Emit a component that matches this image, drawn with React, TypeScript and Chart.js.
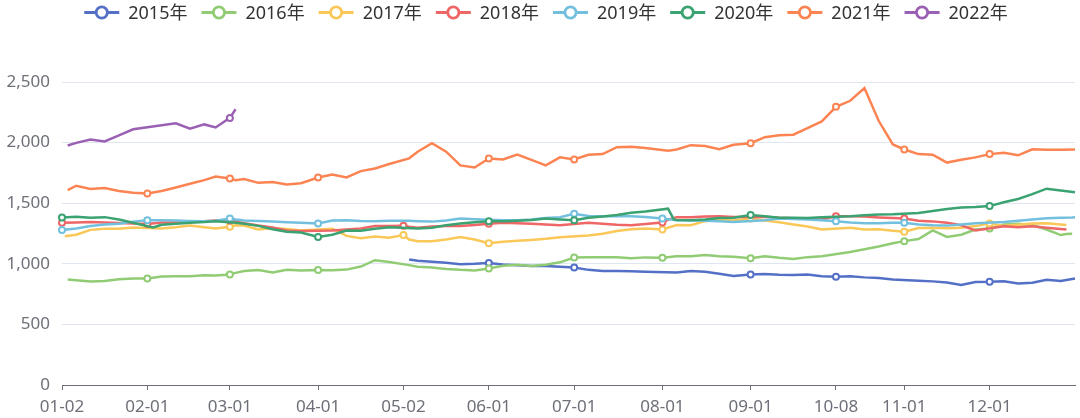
import React, { useEffect, useRef } from "react";
import { Chart, registerables } from "chart.js";

Chart.register(...registerables);

const FONT = "'Noto Sans', 'Noto Sans CJK SC', 'DejaVu Sans', sans-serif";
const N = null;

// calendar of the category axis (union of trading dates across years)
const MONTH_DAYS = [31, 29, 31, 30, 31, 30, 31, 31, 30, 31, 30, 31];
const CLOSED_DATES = ["01-01", "05-01", "10-01", "10-02", "10-03", "10-04", "10-05", "10-06", "10-07"];
const TICK_LABELS = ["01-02", "02-01", "03-01", "04-01", "05-02", "06-01", "07-01", "08-01", "09-01", "10-08", "11-01", "12-01"];

const SERIES_NAMES = ["2015年", "2016年", "2017年", "2018年", "2019年", "2020年", "2021年", "2022年"];
const COLORS = ["#5470c6", "#91cc75", "#fac858", "#ee6666", "#73c0de", "#3ba272", "#fc8452", "#9a60b4"];

const SAMPLE_DATES = [
  "01-02", "01-03", "01-04", "01-07", "01-12", "01-17", "01-22", "01-27",
  "02-01", "02-03", "02-06", "02-11", "02-16", "02-21", "02-25",
  "03-01", "03-03", "03-06", "03-11", "03-16", "03-21", "03-26",
  "04-01", "04-06", "04-11", "04-16", "04-21", "04-26",
  "05-02", "05-04", "05-07", "05-12", "05-17", "05-22", "05-27",
  "06-01", "06-06", "06-11", "06-16", "06-21", "06-26",
  "07-01", "07-06", "07-11", "07-16", "07-21", "07-26",
  "08-01", "08-03", "08-05", "08-06", "08-11", "08-16", "08-21", "08-26",
  "09-01", "09-06", "09-11", "09-16", "09-21", "09-26",
  "10-08", "10-13", "10-18", "10-23", "10-28",
  "11-01", "11-06", "11-11", "11-16", "11-21", "11-26",
  "12-01", "12-06", "12-11", "12-16", "12-21", "12-26", "12-28", "12-30", "12-31",
];

const V2015 = [
  N, N, N, N, N, N, N, N,
  N, N, N, N, N, N, N,
  N, N, N, N, N, N, N,
  N, N, N, N, N, N,
  N, 1036, 1025, 1017, 1008, 996, 1000,
  1007, 994, 989, 981, 981, 975,
  969, 950, 940, 940, 938, 934,
  N, N, N, 928, 940, 935, 918, 900,
  912, 915, 910, 908, 911, 898,
  893, 897, 888, 882, 870,
  N, 860, 855, 845, 826, 850,
  851, 855, 837, 843, 868, 858, N, N, 878,
];

const V2016 = [
  N, N, 871, 864, 853, 858, 872, 879,
  879, N, 895, 898, 898, 906, 904,
  912, 925, 940, 948, 928, 950, 945,
  948, 946, 952, 977, 1030, 1015,
  N, 989, 975, 970, 958, 950, 945,
  962, 983, 993, 981, 992, 1012,
  1052, 1055, 1055, 1055, 1046, 1053,
  1050, N, N, 1063, 1063, 1072, 1063, 1058,
  1046, 1063, 1050, 1040, 1055, 1063,
  N, 1098, 1120, 1142, 1170,
  1187, 1205, 1275, 1222, 1240, 1283,
  1292, 1325, 1330, 1320, 1283, 1237, 1245, 1248, N,
];

const V2017 = [
  N, 1228, N, 1240, 1280, 1290, 1290, 1300,
  N, N, 1292, 1302, 1316, 1302, 1292,
  1305, 1318, 1315, 1283, 1295, 1288, 1275,
  N, 1290, 1230, 1210, 1225, 1215,
  1237, 1200, 1187, 1187, 1201, 1220, 1201,
  1170, 1182, 1190, 1197, 1206, 1220,
  N, 1234, 1248, 1270, 1286, 1292,
  1283, N, N, 1320, 1319, 1352, 1366, 1358,
  1374, 1358, 1342, 1325, 1308, 1283,
  N, 1297, 1283, 1285, 1272,
  1264, 1295, 1297, 1293, 1298, 1311,
  1333, 1313, 1322, 1332, 1335, 1324, 1320, N, N,
];

const V2018 = [
  1338, N, N, 1340, 1344, 1340, 1336, 1333,
  1328, N, 1340, 1340, 1345, 1352, 1358,
  1358, 1350, 1335, 1316, 1300, 1275, 1270,
  N, 1275, 1283, 1292, 1311, 1311,
  1313, 1305, 1298, 1308, 1311, 1311, 1320,
  1330, 1338, 1335, 1330, 1325, 1319,
  N, 1338, 1330, 1322, 1319, 1328,
  1340, 1365, N, 1385, 1385, 1390, 1393, 1387,
  N, 1388, 1380, 1375, 1374, 1366,
  1393, 1393, 1390, 1383, 1378,
  1374, 1355, 1350, 1338, 1318, 1275,
  N, 1310, 1302, 1309, 1298, 1287, 1283, N, N,
];

const V2019 = [
  1278, N, N, 1292, 1312, 1325, 1330, 1348,
  1360, N, 1360, 1358, 1354, 1352, 1355,
  1374, 1365, 1358, 1354, 1350, 1343, 1338,
  1333, 1358, 1360, 1354, 1352, 1356,
  N, 1355, 1352, 1348, 1358, 1374, 1368,
  N, 1360, 1360, 1366, 1377, 1385,
  1413, 1395, 1393, 1393, 1393, 1387,
  1374, N, N, 1360, 1358, 1356, 1352, 1345,
  N, 1360, 1374, 1370, 1366, 1360,
  1352, 1340, 1335, 1334, 1338,
  1338, 1325, 1318, 1315, 1325, 1335,
  N, 1345, 1355, 1365, 1375, 1380, N, 1383, 1385,
];

const V2020 = [
  1382, N, N, 1388, 1380, 1385, 1365, N,
  N, 1300, 1322, 1330, 1338, 1344, 1352,
  N, 1338, 1330, 1313, 1285, 1264, 1258,
  1222, 1240, 1275, 1272, 1290, 1302,
  N, N, 1292, 1297, 1318, 1333, 1343,
  1352, 1352, 1356, 1362, 1373, 1366,
  1360, 1380, 1390, 1402, 1422, 1432,
  N, 1455, 1366, 1362, 1360, 1366, 1378, 1380,
  1402, 1393, 1380, 1380, 1378, 1385,
  N, 1393, 1400, 1407, 1408,
  N, 1420, 1435, 1452, 1464, 1468,
  1476, 1508, 1535, 1575, 1620, 1605, N, N, 1590,
];

const V2021 = [
  N, N, 1608, 1644, 1618, 1625, 1600, 1586,
  1580, N, 1600, 1630, 1660, 1690, 1720,
  1703, 1690, 1700, 1668, 1675, 1655, 1665,
  1712, 1737, 1712, 1765, 1786, 1823,
  N, 1870, 1925, 1995, 1925, 1812, 1795,
  1869, 1861, 1902, 1858, 1812, 1878,
  1861, 1900, 1905, 1962, 1965, 1955,
  N, 1932, N, 1943, 1979, 1971, 1945, 1982,
  1995, 2045, 2060, 2065, 2120, 2175,
  2295, 2345, 2450, 2180, 1985,
  1943, 1905, 1900, 1835, 1858, 1878,
  1905, 1916, 1895, 1945, 1940, 1940, N, N, 1943,
];

const V2022 = [
  N, N, 1976, 1998, 2025, 2010, 2060, 2110,
  N, N, N, 2160, 2115, 2150, 2125,
  2204, 2275,
];

const SERIES_VALUES = [V2015, V2016, V2017, V2018, V2019, V2020, V2021, V2022];

const legendPlugin = {
  id: "topLegend",
  afterDraw(chart: any) {
    const ctx = chart.ctx as CanvasRenderingContext2D;
    ctx.save();
    ctx.font = `18px ${FONT}`;
    const iconW = 35;
    const textGap = 9;
    const itemGap = 14;
    const items = chart.data.datasets.map((ds: any) => ({
      label: ds.label,
      color: ds.borderColor,
      w: ctx.measureText(ds.label).width,
    }));
    const total =
      items.reduce((s: number, it: any) => s + iconW + textGap + it.w, 0) + itemGap * (items.length - 1);
    let x = (chart.width - total) / 2 + 6;
    const y = 12.5;
    items.forEach((it: any) => {
      ctx.strokeStyle = it.color;
      ctx.lineWidth = 2.8;
      ctx.beginPath();
      ctx.moveTo(x, y);
      ctx.lineTo(x + iconW, y);
      ctx.stroke();
      ctx.beginPath();
      ctx.arc(x + iconW / 2, y, 5.6, 0, Math.PI * 2);
      ctx.fillStyle = "#fff";
      ctx.fill();
      ctx.stroke();
      ctx.fillStyle = "#333";
      ctx.textBaseline = "middle";
      ctx.textAlign = "left";
      ctx.fillText(it.label, x + iconW + textGap, y + 1);
      x += iconW + textGap + it.w + itemGap;
    });
    ctx.restore();
  },
};

export default function App() {
  const ref = useRef<HTMLCanvasElement>(null);

  useEffect(() => {
    const pad = (n: number) => String(n).padStart(2, "0");
    const categories = MONTH_DAYS.flatMap((len, m) =>
      Array.from({ length: len }, (_, d) => `${pad(m + 1)}-${pad(d + 1)}`)
    ).filter((d) => !CLOSED_DATES.includes(d));
    const tickIdx = TICK_LABELS.map((l) => categories.indexOf(l));
    const tickSet = new Set(TICK_LABELS);

    const datasets = SERIES_VALUES.map((vals, i) => ({
      label: SERIES_NAMES[i],
      data: SAMPLE_DATES.map((d, j) => ({ x: d, y: vals[j] })).filter((p) => p.y != null),
      borderColor: COLORS[i],
      backgroundColor: COLORS[i],
      borderWidth: 2.5,
      pointRadius: (c: any) => (c.raw && tickSet.has(c.raw.x) ? 3 : 0),
      pointHoverRadius: 0,
      pointBorderWidth: 2,
      pointBackgroundColor: "#fff",
      pointBorderColor: COLORS[i],
      tension: 0,
      fill: false,
      order: SERIES_VALUES.length - i,
    }));

    const chart = new Chart(ref.current as HTMLCanvasElement, {
      type: "line",
      data: { labels: categories, datasets } as any,
      options: {
        responsive: false,
        animation: false,
        events: [],
        layout: { padding: { top: 82, right: 2, bottom: 0, left: 0 } },
        plugins: { legend: { display: false }, tooltip: { enabled: false } },
        scales: {
          x: {
            type: "category",
            offset: false,
            grid: {
              display: true,
              drawOnChartArea: false,
              drawTicks: true,
              tickLength: 5,
              color: "#6E7079",
              lineWidth: 1,
            },
            border: { display: true, color: "#6E7079", width: 1 },
            ticks: {
              autoSkip: false,
              maxRotation: 0,
              color: "#6E7079",
              font: { family: FONT, size: 17 },
              padding: 7,
            },
            afterBuildTicks: (s: any) => {
              s.ticks = tickIdx.map((v) => ({ value: v }));
            },
            afterFit: (s: any) => {
              s.height = 33;
            },
          },
          y: {
            min: 0,
            max: 2500,
            ticks: {
              stepSize: 500,
              color: "#6E7079",
              font: { family: FONT, size: 17 },
              padding: 12,
            },
            grid: {
              drawTicks: false,
              color: (c: any) => (c.tick && c.tick.value === 0 ? "rgba(0,0,0,0)" : "#E0E6F1"),
            },
            border: { display: false },
            afterFit: (s: any) => {
              s.width = 62;
            },
          },
        },
      } as any,
      plugins: [legendPlugin],
    });
    return () => chart.destroy();
  }, []);

  return (
    <div style={{ position: "absolute", left: 0, top: 0, width: 1080, height: 418 }}>
      <canvas ref={ref} width={1080} height={418} />
    </div>
  );
}
